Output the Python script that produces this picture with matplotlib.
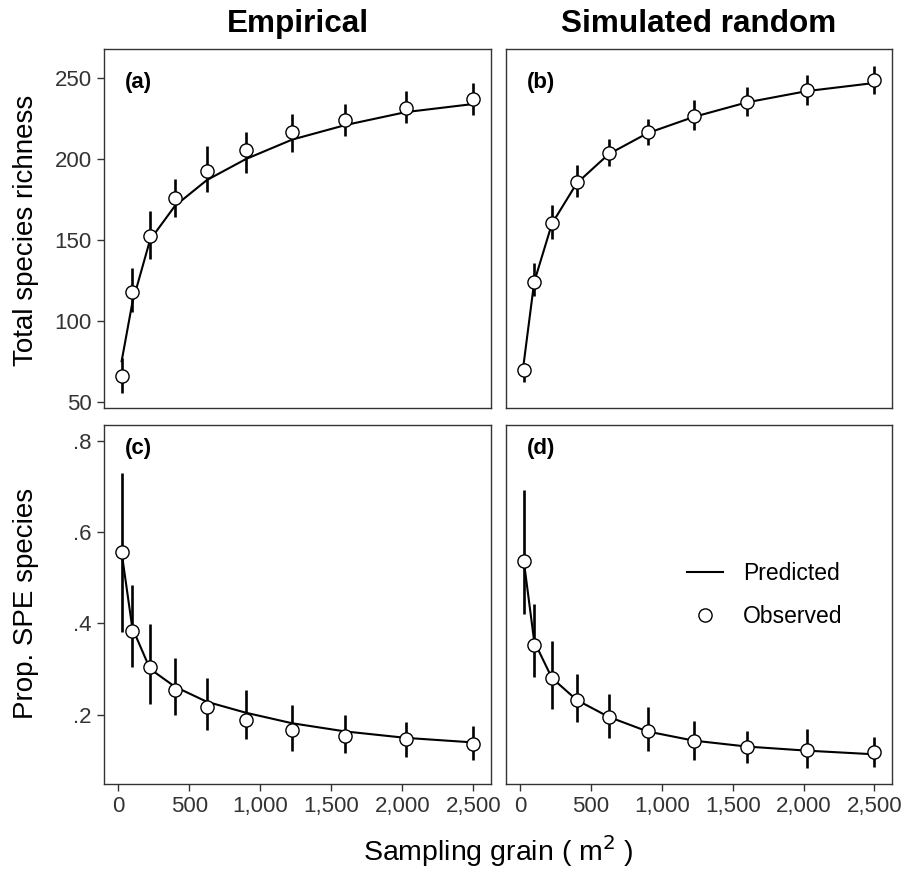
import matplotlib
matplotlib.use("Agg")
import matplotlib.pyplot as plt
from matplotlib.lines import Line2D
from matplotlib.ticker import FuncFormatter

plt.rcParams['font.family'] = ['Liberation Sans', 'DejaVu Sans']

# %% data
grain = [25, 100, 225, 400, 625, 900, 1225, 1600, 2025, 2500]

# (a) empirical richness
emp_rich_obs = [65.9, 117.6, 152.5, 176.2, 192.7, 205.5, 216.6, 224.2, 231.6, 237.2]
emp_rich_lo = [55.6, 105.7, 138.5, 164.0, 179.9, 191.2, 204.2, 214.1, 222.2, 227.3]
emp_rich_hi = [76.8, 132.9, 167.9, 187.7, 208.1, 216.8, 227.7, 233.9, 242.2, 246.9]
emp_rich_pred = [75, 111, 150, 171, 187, 200, 212, 221, 229, 234]

# (b) simulated richness
sim_rich_obs = [69.6, 124.2, 160.7, 185.7, 203.6, 216.6, 226.7, 235.4, 242.8, 249.0]
sim_rich_lo = [62.4, 115.4, 150.4, 176.8, 195.8, 208.4, 218.0, 226.3, 233.5, 240.1]
sim_rich_hi = [73.7, 135.6, 171.6, 196.2, 212.3, 224.8, 236.2, 244.4, 251.9, 257.8]
sim_rich_pred = [73, 124, 160, 185, 203, 216, 226, 235, 242, 247]

# (c) empirical prop. SPE
emp_spe_obs = [0.557, 0.382, 0.305, 0.254, 0.216, 0.188, 0.167, 0.154, 0.147, 0.136]
emp_spe_lo = [0.380, 0.305, 0.223, 0.199, 0.166, 0.146, 0.121, 0.115, 0.108, 0.101]
emp_spe_hi = [0.728, 0.484, 0.399, 0.323, 0.280, 0.253, 0.220, 0.198, 0.183, 0.175]
emp_spe_pred = [0.555, 0.39, 0.30, 0.261, 0.228, 0.204, 0.181, 0.163, 0.149, 0.139]

# (d) simulated prop. SPE
sim_spe_obs = [0.537, 0.353, 0.281, 0.232, 0.194, 0.165, 0.142, 0.130, 0.123, 0.117]
sim_spe_lo = [0.420, 0.283, 0.212, 0.184, 0.148, 0.120, 0.101, 0.095, 0.083, 0.085]
sim_spe_hi = [0.692, 0.442, 0.360, 0.289, 0.244, 0.216, 0.187, 0.164, 0.168, 0.150]
sim_spe_pred = [0.54, 0.36, 0.28, 0.232, 0.195, 0.163, 0.143, 0.130, 0.121, 0.113]

col_titles = ["Empirical", "Simulated random"]
panel_tags = ["(a)", "(b)", "(c)", "(d)"]
rich_ticks = [50, 100, 150, 200, 250]
spe_ticks = [0.2, 0.4, 0.6, 0.8]
x_ticks = [0, 500, 1000, 1500, 2000, 2500]

# %% figure
W, H = 906, 869
fig = plt.figure(figsize=(W / 100, H / 100), dpi=100)

def box(x0, y0, x1, y1):
    return [x0 / W, 1 - y1 / H, (x1 - x0) / W, (y1 - y0) / H]

ax_a = fig.add_axes(box(104, 49, 491, 408))
ax_b = fig.add_axes(box(506, 49, 892, 408))
ax_c = fig.add_axes(box(104, 425, 491, 784))
ax_d = fig.add_axes(box(506, 425, 892, 784))

grey = '#333333'
panels = [
    (ax_a, emp_rich_obs, emp_rich_lo, emp_rich_hi, emp_rich_pred),
    (ax_b, sim_rich_obs, sim_rich_lo, sim_rich_hi, sim_rich_pred),
    (ax_c, emp_spe_obs, emp_spe_lo, emp_spe_hi, emp_spe_pred),
    (ax_d, sim_spe_obs, sim_spe_lo, sim_spe_hi, sim_spe_pred),
]

for i, (ax, obs, lo, hi, pred) in enumerate(panels):
    ax.vlines(grain, lo, hi, color='black', lw=1.9, zorder=2)
    ax.plot(grain, pred, color='black', lw=1.5, zorder=3)
    ax.plot(grain, obs, 'o', ms=9.5, mfc='white', mec='black', mew=1.0, zorder=4)
    ax.set_xlim(-99, 2624)
    for s in ax.spines.values():
        s.set_color(grey)
        s.set_linewidth(1.0)
    ax.tick_params(direction='out', length=4.8, width=1.0, color=grey,
                   labelsize=16, labelcolor=grey, pad=4)
    ax.set_xticks(x_ticks)
    if i < 2:
        ax.set_ylim(46.1, 268)
        ax.set_yticks(rich_ticks)
        ax.text(50, 247.5, panel_tags[i], fontsize=16, fontweight='bold',
                ha='left', va='center')
    else:
        ax.set_ylim(0.048, 0.834)
        ax.set_yticks(spe_ticks)
        ax.yaxis.set_major_formatter(FuncFormatter(lambda v, p: ('%.1f' % v).lstrip('0')))
        ax.text(50, 0.783, panel_tags[i], fontsize=16, fontweight='bold',
                ha='left', va='center')
        ax.xaxis.set_major_formatter(FuncFormatter(lambda v, p: '{:,.0f}'.format(v)))
    if i < 2:
        ax.tick_params(axis='x', bottom=False, labelbottom=False)
    if i % 2 == 1:
        ax.tick_params(axis='y', left=False, labelleft=False)

# column titles
for ax, t in zip([ax_a, ax_b], col_titles):
    ax.text(0.5, 1 + 17 / 359, t, transform=ax.transAxes, ha='center',
            va='baseline', fontsize=22.7, fontweight='bold')

# axis titles
fig.text(26 / W, 1 - 230 / H, "Total species richness", rotation=90,
         ha='center', va='center', fontsize=20)
fig.text(26 / W, 1 - 603 / H, "Prop. SPE species", rotation=90,
         ha='center', va='center', fontsize=20)
fig.text(498 / W, 1 - 851 / H, r"Sampling grain ( m$^{2}$ )", ha='center',
         va='center', fontsize=20.5)

# legend
handles = [Line2D([], [], color='black', lw=1.5),
           Line2D([], [], ls='', marker='o', ms=9.5, mfc='white', mec='black', mew=1.0)]
ax_d.legend(handles, ["Predicted", "Observed"], loc='center left',
            bbox_to_anchor=(0.468, 0.527), frameon=False, fontsize=16.5,
            handlelength=1.6, handletextpad=0.85, labelspacing=0.85,
            borderpad=0, borderaxespad=0)

fig.savefig("out.png", dpi=100)
